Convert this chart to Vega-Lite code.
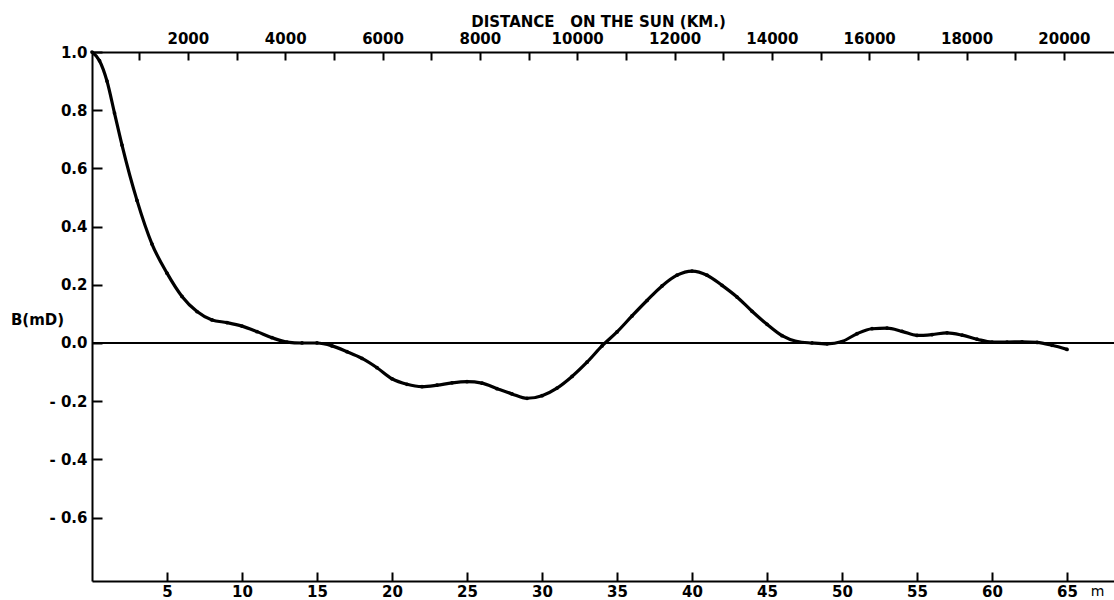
{
  "$schema": "https://vega.github.io/schema/vega-lite/v6.json",
  "width": 1022,
  "height": 529,
  "autosize": "none",
  "padding": {"left": 92, "top": 52, "right": 0, "bottom": 19},
  "background": "white",
  "config": {
    "view": {"stroke": null},
    "axis": {
      "labelFont": "DejaVu Sans", "labelFontWeight": "bold", "labelFontSize": 15, "labelColor": "black",
      "titleFont": "DejaVu Sans", "titleFontWeight": "bold", "titleFontSize": 15, "titleColor": "black",
      "domainColor": "black", "domainWidth": 2, "tickColor": "black", "tickWidth": 2, "grid": false, "labelFlush": false
    }
  },
  "data": {"values": [
    {"m": 0, "B": 1.0}, {"m": 0.5, "B": 0.97}, {"m": 1, "B": 0.9}, {"m": 1.5, "B": 0.79}, {"m": 2, "B": 0.68},
    {"m": 3, "B": 0.49}, {"m": 4, "B": 0.34}, {"m": 5, "B": 0.24}, {"m": 6, "B": 0.16}, {"m": 7, "B": 0.108},
    {"m": 8, "B": 0.079}, {"m": 9, "B": 0.07}, {"m": 10, "B": 0.058}, {"m": 11, "B": 0.039}, {"m": 12, "B": 0.018},
    {"m": 13, "B": 0.003}, {"m": 14, "B": 0.0}, {"m": 15, "B": 0.0}, {"m": 16, "B": -0.01}, {"m": 17, "B": -0.03},
    {"m": 18, "B": -0.053}, {"m": 19, "B": -0.085}, {"m": 20, "B": -0.123}, {"m": 21, "B": -0.142}, {"m": 22, "B": -0.15},
    {"m": 23, "B": -0.145}, {"m": 24, "B": -0.137}, {"m": 25, "B": -0.133}, {"m": 26, "B": -0.138}, {"m": 27, "B": -0.157},
    {"m": 28, "B": -0.175}, {"m": 29, "B": -0.19}, {"m": 30, "B": -0.181}, {"m": 31, "B": -0.155}, {"m": 32, "B": -0.115},
    {"m": 33, "B": -0.066}, {"m": 34, "B": -0.01}, {"m": 35, "B": 0.038}, {"m": 36, "B": 0.093}, {"m": 37, "B": 0.146},
    {"m": 38, "B": 0.196}, {"m": 39, "B": 0.233}, {"m": 40, "B": 0.247}, {"m": 41, "B": 0.233}, {"m": 42, "B": 0.198},
    {"m": 43, "B": 0.158}, {"m": 44, "B": 0.109}, {"m": 45, "B": 0.064}, {"m": 46, "B": 0.025}, {"m": 47, "B": 0.005},
    {"m": 48, "B": 0.0}, {"m": 49, "B": -0.003}, {"m": 50, "B": 0.005}, {"m": 51, "B": 0.032}, {"m": 52, "B": 0.049},
    {"m": 53, "B": 0.051}, {"m": 54, "B": 0.04}, {"m": 55, "B": 0.026}, {"m": 56, "B": 0.029}, {"m": 57, "B": 0.035},
    {"m": 58, "B": 0.027}, {"m": 59, "B": 0.013}, {"m": 60, "B": 0.003}, {"m": 61, "B": 0.003}, {"m": 62, "B": 0.004},
    {"m": 63, "B": 0.002}, {"m": 64, "B": -0.008}, {"m": 65, "B": -0.022}
  ]},
  "layer": [
    {
      "mark": {"type": "rule", "strokeWidth": 2, "color": "black"},
      "encoding": {"y": {"datum": 0, "type": "quantitative", "scale": {"domain": [-0.818, 1.0], "nice": false, "zero": false}, "axis": null}}
    },
    {
      "mark": {"type": "line", "interpolate": "monotone", "strokeWidth": 3.2, "color": "black"},
      "encoding": {
        "x": {"field": "m", "type": "quantitative", "scale": {"domain": [0, 68.13], "nice": false, "zero": false}, "axis": null},
        "y": {"field": "B", "type": "quantitative", "scale": {"domain": [-0.818, 1.0], "nice": false, "zero": false}, "axis": null}
      }
    },
    {
      "mark": {"type": "point", "filled": true, "size": 14, "color": "black", "opacity": 1},
      "encoding": {
        "x": {"field": "m", "type": "quantitative", "scale": {"domain": [0, 68.13], "nice": false, "zero": false}, "axis": null},
        "y": {"field": "B", "type": "quantitative", "scale": {"domain": [-0.818, 1.0], "nice": false, "zero": false}, "axis": null}
      }
    },
    {
      "mark": {"type": "rule", "opacity": 0},
      "encoding": {
        "x": {"datum": 5000, "type": "quantitative",
          "scale": {"domain": [30, 21030], "nice": false, "zero": false},
          "axis": {"orient": "top", "values": [1000, 2000, 3000, 4000, 5000, 6000, 7000, 8000, 9000, 10000, 11000, 12000, 13000, 14000, 15000, 16000, 17000, 18000, 19000, 20000],
            "labelExpr": "datum.value % 2000 == 0 ? format(datum.value, 'd') : ''",
            "tickSize": -8, "labelPadding": 14,
            "title": "DISTANCE\u00a0\u00a0\u00a0ON THE SUN (KM.)", "titleX": 506, "titleY": -31, "titleAlign": "center", "titleBaseline": "middle"}}
      }
    },
    {
      "mark": {"type": "rule", "opacity": 0},
      "encoding": {
        "x": {"datum": 5, "type": "quantitative",
          "scale": {"domain": [0, 68.13], "nice": false, "zero": false},
          "axis": {"orient": "bottom", "values": [5, 10, 15, 20, 25, 30, 35, 40, 45, 50, 55, 60, 65], "tickSize": -9,
            "labelPadding": 19, "labelBaseline": "middle",
            "title": "m", "titleFontWeight": "normal", "titleFontSize": 14, "titleX": 1005, "titleY": 10, "titleAlign": "center", "titleBaseline": "middle"}},
        "y": {"datum": 0, "type": "quantitative",
          "scale": {"domain": [-0.818, 1.0], "nice": false, "zero": false},
          "axis": {"orient": "left", "values": [-0.6, -0.4, -0.2, 0, 0.2, 0.4, 0.6, 0.8, 1.0], "tickSize": -10,
            "labelExpr": "datum.value < 0 ? '- ' + format(-datum.value, '.1f') : format(datum.value, '.1f')",
            "labelPadding": 15,
            "title": "B(mD)", "titleAngle": 0, "titleX": -55, "titleY": 267, "titleAlign": "center", "titleBaseline": "middle"}}
      }
    }
  ],
  "resolve": {"scale": {"x": "independent", "y": "independent"}}
}
